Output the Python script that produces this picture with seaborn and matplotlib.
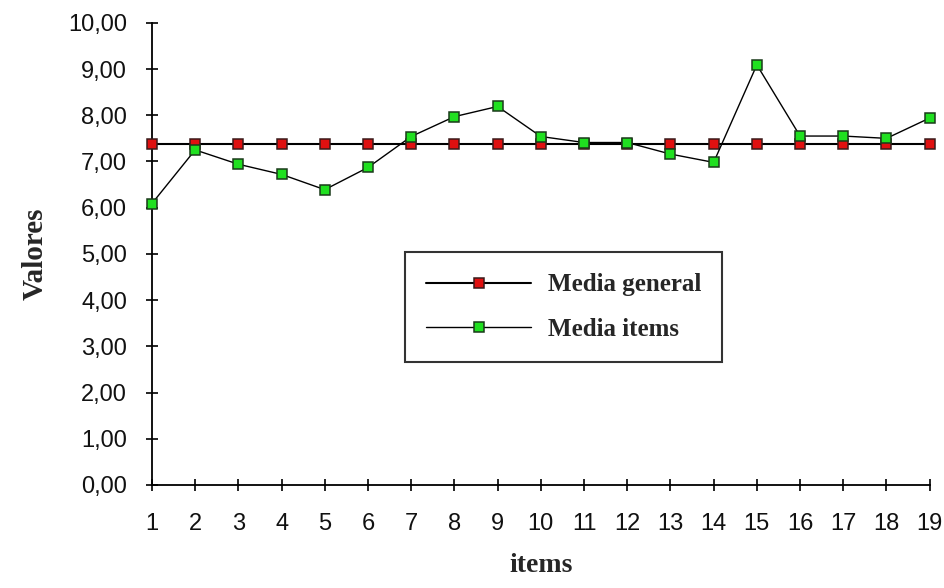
import matplotlib
matplotlib.use("Agg")
import matplotlib.pyplot as plt
import seaborn as sns
import pandas as pd
from matplotlib.ticker import FuncFormatter

items = list(range(1, 20))
media_general = [7.37] * 19
media_items = [6.09, 7.25, 6.94, 6.72, 6.39, 6.87, 7.54, 7.97, 8.19, 7.54,
               7.41, 7.41, 7.16, 6.98, 9.09, 7.55, 7.55, 7.50, 7.94]
y_ticks = [0, 1, 2, 3, 4, 5, 6, 7, 8, 9, 10]

sns.set_style("white")
sans = ['Liberation Sans Narrow', 'Liberation Sans', 'DejaVu Sans']
serif = ['Liberation Serif', 'DejaVu Serif']

fig = plt.figure(figsize=(9.45, 5.88), dpi=100)
ax = fig.add_axes([0.1608, 0.1752, 0.823, 0.786])

df_g = pd.DataFrame({"items": items, "v": media_general})
df_i = pd.DataFrame({"items": items, "v": media_items})

sns.lineplot(data=df_g, x="items", y="v", ax=ax, color="black", lw=1.5,
             marker="s", markersize=7.5, markerfacecolor="#e01010",
             markeredgecolor="#3a1a1a", markeredgewidth=1.1,
             label="Media general", clip_on=False, zorder=3)
sns.lineplot(data=df_i, x="items", y="v", ax=ax, color="black", lw=1.0,
             marker="s", markersize=7.5, markerfacecolor="#20e020",
             markeredgecolor="#1a3a1a", markeredgewidth=1.1,
             label="Media items", clip_on=False, zorder=4)

ax.set_xlim(1, 19)
ax.set_ylim(0, 10)
ax.set_xticks(items)
ax.set_yticks(y_ticks)
ax.yaxis.set_major_formatter(FuncFormatter(lambda v, p: f"{v:.2f}".replace(".", ",")))
for s in ["top", "right"]:
    ax.spines[s].set_visible(False)
for s in ["left", "bottom"]:
    ax.spines[s].set_color("black")
    ax.spines[s].set_linewidth(1.3)
ax.tick_params(axis="both", which="major", bottom=True, left=True,
               direction="inout", length=8, width=1.2, color="black",
               labelsize=17, labelcolor="#111111")
ax.tick_params(axis="x", pad=16)
ax.tick_params(axis="y", pad=14)
for lab in ax.get_xticklabels() + ax.get_yticklabels():
    lab.set_family(sans)

ax.set_xlabel("items", family=serif, fontweight="bold", fontsize=20, labelpad=13)
ax.set_ylabel("Valores", family=serif, fontweight="bold", fontsize=21, labelpad=14)

leg = ax.legend(loc="upper left", bbox_to_anchor=(405 / 945, 1 - 252 / 588),
                bbox_transform=fig.transFigure, frameon=True, fancybox=False,
                prop={"family": serif, "weight": "bold", "size": 18},
                handlelength=4.2, borderpad=0.85, labelspacing=0.85,
                handletextpad=0.65, borderaxespad=0)
leg.get_frame().set_edgecolor("black")
leg.get_frame().set_linewidth(1.5)

fig.savefig("out.png", dpi=100)
